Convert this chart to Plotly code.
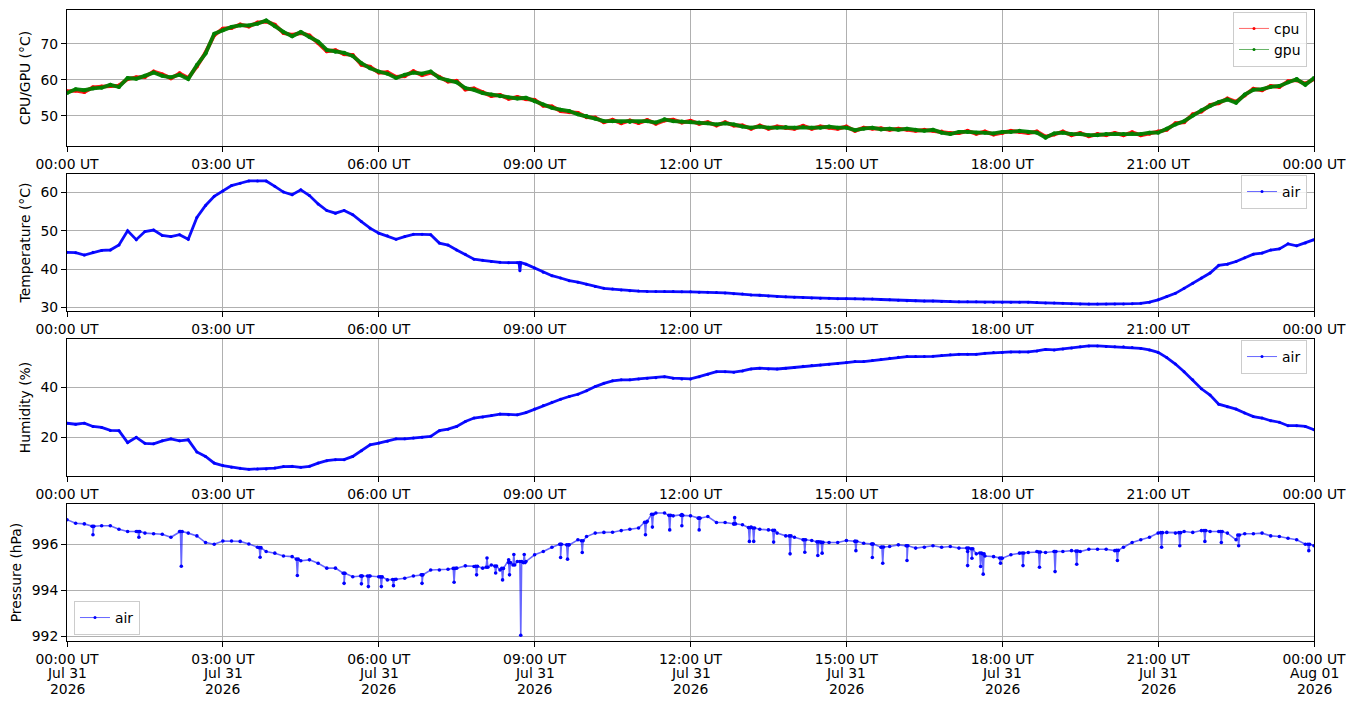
import pandas as pd
import plotly.graph_objects as go

# ---------------- data (10-minute samples) ----------------
day_start = "2026-07-31 00:00"
n_samples = 145  # 00:00 .. 24:00 every 10 minutes

gpu = [56.3, 57.4, 57.1, 57.6, 57.8, 58.6,
       58.0, 60.5, 60.3, 61.1, 62.0, 61.1,
       60.7, 61.4, 60.2, 64.1, 67.3, 72.8,
       73.8, 74.7, 75.1, 75.1, 75.6, 76.5,
       74.9, 73.3, 72.1, 73.3, 71.9, 70.6,
       68.3, 67.8, 67.5, 66.6, 64.6, 63.2,
       62.3, 61.7, 60.5, 61.4, 62.0, 61.7,
       62.3, 60.5, 59.8, 59.3, 57.7, 57.2,
       56.3, 55.9, 55.4, 55.1, 54.8, 55.0,
       54.0, 53.1, 52.2, 51.7, 51.3, 50.4,
       49.9, 49.2, 48.5, 48.5, 48.3, 48.3,
       48.3, 48.5, 48.1, 49.0, 48.5, 48.4,
       48.3, 48.1, 47.9, 47.6, 47.9, 47.6,
       47.0, 46.7, 47.0, 46.7, 46.7, 46.9,
       46.7, 46.9, 46.7, 46.7, 47.0, 46.7,
       46.7, 46.0, 46.4, 46.7, 46.2, 46.4,
       46.1, 46.4, 46.1, 45.8, 46.1, 45.3,
       44.9, 45.5, 45.5, 45.3, 45.3, 45.1,
       45.5, 45.5, 45.8, 45.5, 45.3, 43.9,
       45.1, 45.3, 44.9, 44.9, 44.6, 44.6,
       44.9, 44.9, 44.9, 45.1, 44.9, 45.3,
       45.3, 46.4, 47.6, 48.5, 50.1, 51.5,
       52.7, 53.8, 54.5, 53.6, 55.9, 57.2,
       57.4, 58.0, 58.3, 59.3, 60.2, 58.6,
       60.5]

cpu = [56.8, 57.0, 56.6, 57.9, 58.1, 58.3,
       58.4, 60.2, 60.7, 60.8, 62.3, 61.5,
       60.4, 61.8, 60.5, 63.7, 67.6, 72.4,
       74.2, 74.4, 75.4, 74.8, 75.9, 76.2,
       75.3, 73.0, 72.5, 73.0, 72.3, 70.2,
       67.9, 68.2, 67.1, 66.9, 64.2, 63.6,
       62.0, 62.1, 60.8, 61.0, 62.4, 61.3,
       62.0, 60.8, 59.5, 59.7, 57.3, 57.6,
       56.6, 55.5, 55.8, 54.7, 55.2, 54.6,
       54.4, 52.8, 52.6, 51.3, 51.0, 50.8,
       49.6, 49.5, 48.2, 48.9, 47.9, 48.7,
       48.0, 48.8, 47.8, 48.7, 48.9, 48.1,
       48.6, 47.8, 48.2, 47.3, 48.2, 47.3,
       47.3, 46.4, 47.3, 46.4, 47.0, 46.6,
       46.4, 47.2, 46.4, 47.0, 46.7, 46.4,
       47.0, 45.8, 46.7, 46.4, 46.5, 46.1,
       46.4, 46.1, 45.8, 46.1, 45.8, 45.6,
       45.2, 45.2, 45.8, 45.0, 45.6, 44.8,
       45.2, 45.8, 45.5, 45.2, 45.6, 44.2,
       44.8, 45.6, 44.6, 45.2, 44.3, 44.9,
       44.6, 45.2, 44.6, 45.4, 44.6, 45.0,
       45.6, 46.1, 47.9, 48.2, 50.4, 51.2,
       53.0, 53.5, 54.8, 53.9, 55.6, 57.5,
       57.1, 58.3, 58.0, 59.6, 59.9, 58.9,
       60.2]

air_temp = [44.4, 44.3, 43.7, 44.4, 44.9, 45.0,
            46.3, 50.0, 47.7, 49.8, 50.2, 48.8,
            48.5, 49.0, 47.8, 53.5, 56.6, 59.0,
            60.4, 61.8, 62.4, 63.0, 63.0, 63.0,
            61.6, 60.1, 59.4, 60.7, 59.2, 57.0,
            55.3, 54.6, 55.3, 54.2, 52.4, 50.7,
            49.4, 48.7, 47.8, 48.5, 49.1, 49.1,
            49.0, 46.8, 46.3, 45.0, 43.9, 42.6,
            42.3, 42.0, 41.8, 41.7, 41.7, 41.3,
            40.3, 39.2, 38.3, 37.7, 37.0, 36.6,
            36.1, 35.5, 35.0, 34.8, 34.6, 34.4,
            34.3, 34.2, 34.2, 34.2, 34.2, 34.1,
            34.1, 34.0, 34.0, 33.9, 33.8, 33.6,
            33.5, 33.3, 33.2, 33.0, 32.9, 32.8,
            32.7, 32.6, 32.5, 32.4, 32.4, 32.3,
            32.3, 32.3, 32.2, 32.2, 32.1, 32.0,
            31.9, 31.8, 31.8, 31.7, 31.7, 31.6,
            31.6, 31.5, 31.5, 31.5, 31.4, 31.4,
            31.4, 31.4, 31.4, 31.4, 31.3, 31.2,
            31.2, 31.1, 31.0, 30.9, 30.9, 30.9,
            30.9, 30.9, 30.9, 31.0, 31.1, 31.4,
            32.0, 32.9, 33.7, 35.0, 36.3, 37.7,
            39.0, 41.0, 41.3, 42.0, 43.0, 43.9,
            44.2, 45.0, 45.3, 46.6, 46.1, 46.8,
            47.7]

air_hum = [25.6, 25.2, 25.6, 24.3, 23.9, 22.7,
           22.6, 17.8, 19.9, 17.5, 17.3, 18.5,
           19.3, 18.5, 18.9, 14.0, 12.2, 9.5,
           8.5, 7.8, 7.4, 7.0, 7.1, 7.1,
           7.5, 8.1, 8.2, 7.8, 8.2, 9.5,
           10.5, 10.9, 10.9, 12.2, 14.5, 16.9,
           17.6, 18.3, 19.3, 19.3, 19.6, 19.9,
           20.3, 22.6, 23.2, 24.3, 26.3, 27.7,
           28.1, 28.7, 29.3, 29.0, 29.0, 29.9,
           31.3, 32.8, 34.1, 35.3, 36.4, 37.3,
           38.7, 40.4, 41.7, 42.7, 43.1, 43.1,
           43.5, 43.8, 44.0, 44.4, 43.8, 43.5,
           43.5, 44.4, 45.4, 46.4, 46.4, 46.2,
           46.7, 47.5, 47.8, 47.5, 47.5, 47.8,
           48.1, 48.6, 48.9, 49.1, 49.4, 49.7,
           50.1, 50.5, 50.5, 50.9, 51.3, 51.8,
           52.2, 52.5, 52.5, 52.5, 52.6, 52.9,
           53.2, 53.4, 53.4, 53.4, 53.8, 54.1,
           54.2, 54.4, 54.4, 54.4, 54.8, 55.4,
           55.2, 55.6, 56.0, 56.5, 56.8, 56.8,
           56.6, 56.5, 56.5, 56.2, 55.8, 55.2,
           54.2, 52.1, 49.5, 46.4, 43.1, 39.5,
           37.0, 33.3, 32.3, 31.3, 29.7, 28.3,
           27.7, 26.6, 26.0, 24.6, 24.6, 24.3,
           23.0]

air_pres = [997.06, 996.91, 996.88, 996.77, 996.80, 996.80,
            996.65, 996.55, 996.55, 996.48, 996.45, 996.43,
            996.30, 996.55, 996.48, 996.36, 996.07, 996.00,
            996.14, 996.14, 996.12, 996.01, 995.87, 995.68,
            995.61, 995.49, 995.46, 995.28, 995.32, 995.17,
            994.96, 994.96, 994.74, 994.59, 994.62, 994.62,
            994.59, 994.45, 994.48, 994.52, 994.62, 994.67,
            994.88, 994.88, 994.91, 994.96, 995.06, 995.03,
            994.96, 995.10, 994.88, 995.32, 995.25, 995.25,
            995.54, 995.68, 995.87, 996.00, 995.97, 996.19,
            996.33, 996.48, 996.51, 996.52, 996.59, 996.65,
            996.70, 996.99, 997.35, 997.35, 997.23, 997.28,
            997.23, 997.13, 997.20, 996.94, 996.94, 996.88,
            996.84, 996.74, 996.65, 996.62, 996.48, 996.36,
            996.30, 996.19, 996.16, 996.09, 996.07, 996.07,
            996.16, 996.12, 996.04, 996.01, 995.87, 995.90,
            995.97, 995.93, 995.83, 995.87, 995.93, 995.87,
            995.90, 995.83, 995.68, 995.58, 995.49, 995.46,
            995.39, 995.54, 995.61, 995.64, 995.68, 995.64,
            995.68, 995.68, 995.72, 995.68, 995.78, 995.78,
            995.78, 995.72, 995.87, 996.07, 996.19, 996.30,
            996.48, 996.51, 996.48, 996.55, 996.51, 996.59,
            996.55, 996.55, 996.48, 996.19, 996.45, 996.45,
            996.48, 996.36, 996.33, 996.26, 996.19, 996.00,
            995.93]

# single-sample spikes: time, spike value, value of the trace just around it
temp_spike_times = ["08:43"]
temp_spike_vals = [39.6]
temp_spike_base = [41.7]

pres_spike_times = ["00:30", "01:23", "02:12", "03:43", "04:26", "05:20", "05:40", "05:48",
                    "06:03", "06:17", "06:50", "07:27", "07:53", "08:05", "08:15", "08:23",
                    "08:31", "08:36", "08:44", "08:48", "09:30", "09:38", "09:55", "11:08",
                    "11:16", "11:36", "11:50", "12:10", "12:51", "13:08", "13:13", "13:36",
                    "13:55", "14:12", "14:27", "14:32", "15:11", "15:30", "15:42", "16:10",
                    "17:20", "17:25", "17:35", "17:38", "17:58", "18:24", "18:43", "19:01",
                    "19:26", "20:13", "21:04", "21:25", "21:54", "22:13", "22:33", "23:54"]
pres_spike_vals = [996.41, 996.30, 995.04, 995.43, 994.64, 994.30, 994.28, 994.16,
                   994.16, 994.20, 994.30, 994.35, 994.67, 995.40, 994.75, 994.45,
                   994.67, 995.55, 992.05, 995.55, 995.42, 995.35, 995.64, 996.41,
                   996.74, 996.62, 996.80, 996.62, 997.15, 996.12, 996.12, 996.09,
                   995.58, 995.65, 995.51, 995.61, 995.72, 995.42, 995.17, 995.29,
                   995.07, 995.39, 995.03, 994.70, 995.17, 995.07, 995.00, 994.81,
                   995.13, 995.29, 995.87, 995.93, 996.12, 996.07, 995.93, 995.72]
pres_spike_base = [996.78, 996.55, 996.55, 995.85, 995.35, 994.74, 994.62, 994.62,
                   994.58, 994.47, 994.67, 994.95, 995.04, 995.00, 995.05, 994.95,
                   995.20, 995.10, 995.25, 995.20, 996.00, 995.97, 996.15, 996.95,
                   997.30, 997.25, 997.25, 997.13, 996.88, 996.72, 996.70, 996.60,
                   996.36, 996.19, 996.10, 996.08, 996.13, 996.01, 995.88, 995.93,
                   995.83, 995.80, 995.62, 995.58, 995.40, 995.62, 995.66, 995.68,
                   995.70, 995.73, 996.50, 996.50, 996.59, 996.55, 996.40, 996.00]

tick_hours = [0, 3, 6, 9, 12, 15, 18, 21, 24]
tick_times = ["00:00 UT", "03:00 UT", "06:00 UT", "09:00 UT", "12:00 UT",
              "15:00 UT", "18:00 UT", "21:00 UT", "00:00 UT"]
tick_days = ["Jul 31", "Jul 31", "Jul 31", "Jul 31", "Jul 31",
             "Jul 31", "Jul 31", "Jul 31", "Aug 01"]
tick_years = ["2026"] * 9

# ---------------- build series ----------------
t0 = pd.Timestamp(day_start)
times = list(pd.date_range(t0, periods=n_samples, freq="10min"))
one_min = pd.Timedelta(minutes=1)


def with_spikes(base_times, base_vals, s_times, s_vals, s_base):
    pts = list(zip(base_times, base_vals))
    for hhmm, v, b in zip(s_times, s_vals, s_base):
        ts = pd.Timestamp("2026-07-31 " + hhmm)
        pts += [(ts - one_min, b), (ts, v), (ts + one_min, b)]
    pts.sort(key=lambda p: p[0])
    return [p[0] for p in pts], [p[1] for p in pts]


temp_x, temp_y = with_spikes(times, air_temp, temp_spike_times, temp_spike_vals, temp_spike_base)
pres_x, pres_y = with_spikes(times, air_pres, pres_spike_times, pres_spike_vals, pres_spike_base)

FONT = "DejaVu Sans"
FS = 13.9
BLUE = "#0000ff"
fig = go.Figure()


def add_series(x, y, color, line_rgba, lw, ms, xa, ya):
    fig.add_trace(go.Scatter(x=x, y=y, mode="lines+markers", showlegend=False,
                             line=dict(color=line_rgba, width=lw),
                             marker=dict(color=color, size=ms),
                             xaxis=xa, yaxis=ya, hoverinfo="x+y"))


def add_legend_entry(name, color, line_rgba, xa, ya, legend):
    fig.add_trace(go.Scatter(x=[None], y=[None], mode="lines+markers", name=name,
                             line=dict(color=line_rgba, width=1),
                             marker=dict(color=color, size=3),
                             xaxis=xa, yaxis=ya, legend=legend))


add_series(times, cpu, "#ff0000", "rgba(255,0,0,0.9)", 3.8, 4, "x", "y")
add_series(times, gpu, "#008000", "rgba(0,128,0,0.95)", 3.8, 4, "x", "y")
add_legend_entry("cpu", "#ff0000", "rgba(255,0,0,0.6)", "x", "y", "legend")
add_legend_entry("gpu", "#008000", "rgba(0,128,0,0.6)", "x", "y", "legend")

add_series(temp_x, temp_y, BLUE, "rgba(0,0,255,0.95)", 2.8, 3, "x2", "y2")
add_legend_entry("air", BLUE, "rgba(0,0,255,0.6)", "x2", "y2", "legend2")

add_series(times, air_hum, BLUE, "rgba(0,0,255,0.95)", 2.8, 3, "x3", "y3")
add_legend_entry("air", BLUE, "rgba(0,0,255,0.6)", "x3", "y3", "legend3")

add_series(pres_x, pres_y, BLUE, "rgba(0,0,255,0.6)", 1.6, 3.6, "x4", "y4")
add_legend_entry("air", BLUE, "rgba(0,0,255,0.6)", "x4", "y4", "legend4")

tick_vals = [t0 + pd.Timedelta(hours=h) for h in tick_hours]

common_x = dict(range=[t0, t0 + pd.Timedelta(hours=24)], tickmode="array", tickvals=tick_vals,
                ticktext=tick_times, automargin=False,
                showgrid=True, gridcolor="#b0b0b0", gridwidth=1,
                showline=True, linecolor="black", linewidth=1, mirror=True,
                ticks="outside", ticklen=5, tickcolor="black", zeroline=False,
                tickfont=dict(family=FONT, size=FS, color="black"))
common_y = dict(showgrid=True, gridcolor="#b0b0b0", gridwidth=1, automargin=False,
                showline=True, linecolor="black", linewidth=1, mirror=True,
                ticks="outside", ticklen=5, tickcolor="black", zeroline=False,
                tickfont=dict(family=FONT, size=FS, color="black"),
                title_font=dict(family=FONT, size=FS, color="black"), title_standoff=6)

legend_style = dict(bgcolor="rgba(255,255,255,0.8)", bordercolor="#cccccc", borderwidth=1,
                    font=dict(family=FONT, size=FS, color="black"), tracegroupgap=2,
                    itemwidth=30)

# date / year lines under the bottom axis tick labels
date_annotations = []
for tv, d, yr in zip(tick_vals, tick_days, tick_years):
    date_annotations.append(dict(x=tv, y=-0.0507, xref="x4", yref="paper", text=d,
                                 showarrow=False, xanchor="center", yanchor="middle",
                                 font=dict(family=FONT, size=FS, color="black")))
    date_annotations.append(dict(x=tv, y=-0.0761, xref="x4", yref="paper", text=yr,
                                 showarrow=False, xanchor="center", yanchor="middle",
                                 font=dict(family=FONT, size=FS, color="black")))

fig.update_layout(
    width=1346, height=691,
    margin=dict(l=59, r=40, t=2, b=58, autoexpand=False),
    plot_bgcolor="white", paper_bgcolor="white",
    font=dict(family=FONT, size=FS, color="black"),
    xaxis=dict(common_x, anchor="y", domain=[0, 1]),
    xaxis2=dict(common_x, anchor="y2", domain=[0, 1]),
    xaxis3=dict(common_x, anchor="y3", domain=[0, 1]),
    xaxis4=dict(common_x, anchor="y4", domain=[0, 1]),
    yaxis=dict(common_y, anchor="x", domain=[0.7845, 1.0], range=[41.6, 79.4], dtick=10,
               title_text="CPU/GPU (°C)"),
    yaxis2=dict(common_y, anchor="x2", domain=[0.523, 0.740], range=[29.1, 64.8], dtick=10,
                title_text="Temperature (°C)"),
    yaxis3=dict(common_y, anchor="x3", domain=[0.2615, 0.4786], range=[4.3, 59.6], dtick=20,
                title_text="Humidity (%)"),
    yaxis4=dict(common_y, anchor="x4", domain=[0.0, 0.217], range=[991.8, 997.74], dtick=2,
                title_text="Pressure (hPa)"),
    legend=dict(legend_style, x=0.9944, y=0.997, xanchor="right", yanchor="top"),
    legend2=dict(legend_style, x=0.9944, y=0.7385, xanchor="right", yanchor="top"),
    legend3=dict(legend_style, x=0.9944, y=0.477, xanchor="right", yanchor="top"),
    legend4=dict(legend_style, x=0.0056, y=0.0095, xanchor="left", yanchor="bottom"),
    annotations=date_annotations,
    hovermode="closest",
)

fig.write_html("out.html")
